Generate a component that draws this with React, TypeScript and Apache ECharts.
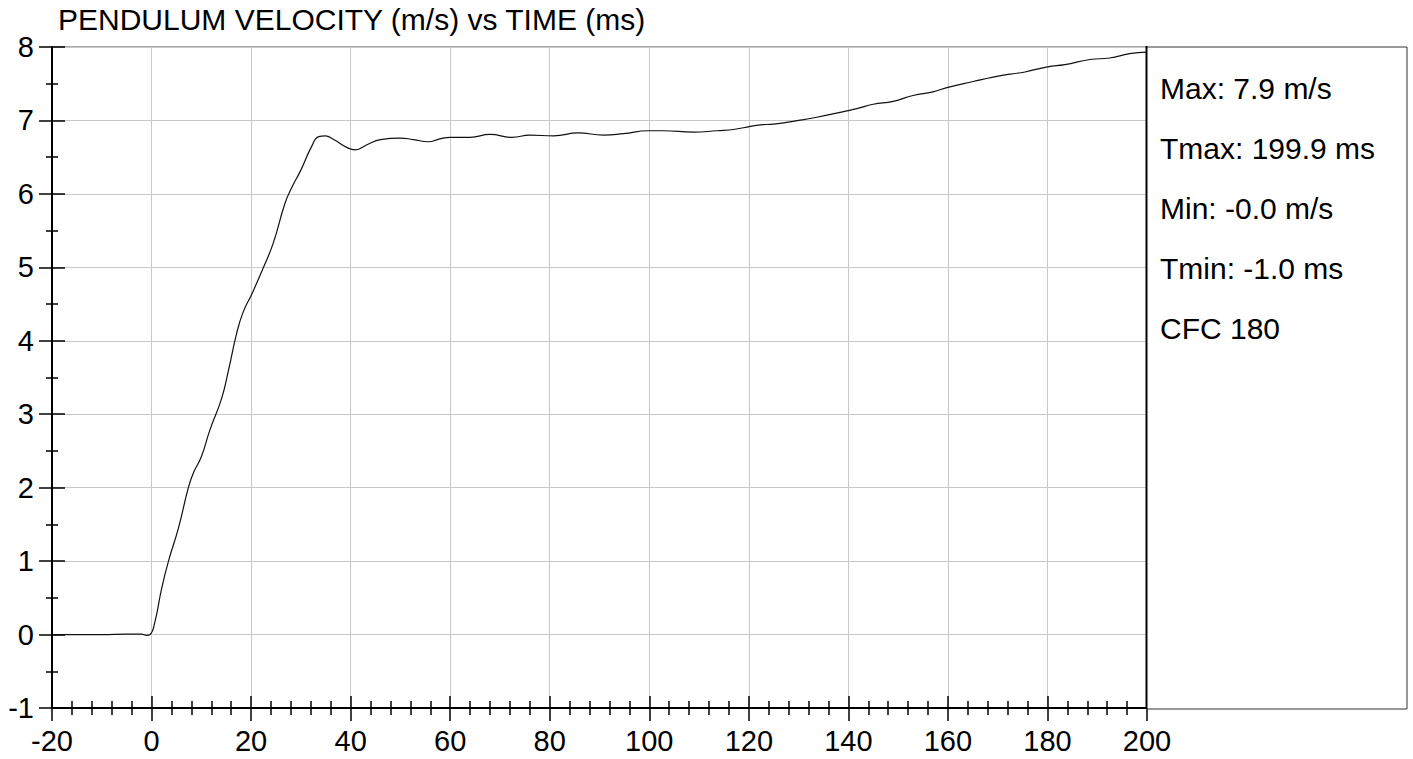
import React, { useEffect, useRef } from "react";
import * as echarts from "echarts";

const timeMs: number[] = [
  -20, -10, -5, -2, -1, -0.3, 0.7, 2, 3.4, 5.4, 7.4, 8.4, 10, 11.7, 14.1, 15.4, 17.1, 18.4, 20.1, 22.5,
  24.5, 26.8, 28.2, 29.9, 32.2, 33.6, 34.9, 36.6, 39.3, 40.9, 43.3, 46, 49.9, 52.6, 55.6, 57.9, 60, 64,
  68, 72.4, 76, 80.8, 85.7, 90.8, 94.8, 99.8, 102.8, 108.9, 113.6, 117.2, 120.3, 122.3, 125, 130, 133.4,
  139.7, 141.7, 145, 149, 153, 157, 160, 165.1, 169.1, 172.5, 175.5, 180, 183.5, 188.5, 192.5, 196.5, 199.9,
];
const velocity: number[] = [
  0, 0, 0.005, 0.005, -0.01, 0.0, 0.18, 0.62, 1.0, 1.45, 2.0, 2.2, 2.42, 2.78, 3.22, 3.58, 4.1, 4.39, 4.63,
  5.0, 5.34, 5.87, 6.09, 6.31, 6.65, 6.78, 6.79, 6.74, 6.63, 6.6, 6.67, 6.74, 6.76, 6.74, 6.71, 6.75, 6.77,
  6.77, 6.81, 6.77, 6.8, 6.79, 6.83, 6.8, 6.82, 6.86, 6.86, 6.84, 6.86, 6.88, 6.92, 6.94, 6.95, 7.0, 7.04,
  7.13, 7.16, 7.22, 7.26, 7.34, 7.39, 7.45, 7.53, 7.59, 7.63, 7.66, 7.73, 7.76, 7.83, 7.85, 7.91, 7.93,
];
const titleText = "PENDULUM VELOCITY (m/s) vs TIME (ms)";
const infoLines: string[] = ["Max: 7.9 m/s", "Tmax: 199.9 ms", "Min: -0.0 m/s", "Tmin: -1.0 ms", "CFC 180"];
const xRange = { min: -20, max: 200, interval: 20 };
const yRange = { min: -1, max: 8, interval: 1 };

const FONT = "'Liberation Sans', Arial, Helvetica, sans-serif";

export default function App() {
  const ref = useRef<HTMLDivElement>(null);
  useEffect(() => {
    document.body.style.margin = "0";
    if (!ref.current) return;
    const chart = echarts.init(ref.current, undefined, { renderer: "svg" });
    const axisLine = { show: true, onZero: false, lineStyle: { color: "#000", width: 2 } };
    const hiddenLine = { show: false, onZero: false };
    const tickStyle = { color: "#000", width: 1.5 };
    const option: any = {
      animation: false,
      backgroundColor: "#fff",
      textStyle: { fontFamily: FONT },
      title: {
        text: titleText,
        left: 58,
        top: 4,
        padding: 0,
        textStyle: { fontFamily: FONT, fontSize: 30, fontWeight: "normal", color: "#000" },
      },
      grid: {
        left: 52,
        right: 266,
        top: 47,
        bottom: 51,
        show: true,
        borderColor: "#555",
        borderWidth: 1,
        backgroundColor: "#fff",
      },
      xAxis: [
        {
          type: "value",
          position: "bottom",
          ...xRange,
          axisLine,
          axisTick: { show: true, inside: false, length: 13, lineStyle: tickStyle },
          minorTick: { show: true, splitNumber: 5, length: 7, lineStyle: tickStyle },
          axisLabel: { fontFamily: FONT, fontSize: 29, color: "#000", margin: 18 },
          splitLine: { show: true, lineStyle: { color: "#c8c8c8", width: 1 } },
        },
        {
          type: "value",
          position: "bottom",
          ...xRange,
          axisLine: hiddenLine,
          axisTick: { show: true, inside: true, length: 12, lineStyle: tickStyle },
          minorTick: { show: true, splitNumber: 5, length: 7, lineStyle: tickStyle },
          axisLabel: { show: false },
          splitLine: { show: false },
        },
      ],
      yAxis: [
        {
          type: "value",
          position: "left",
          ...yRange,
          axisLine,
          axisTick: { show: true, inside: false, length: 13, lineStyle: tickStyle },
          minorTick: { show: true, splitNumber: 2, length: 6, lineStyle: tickStyle },
          axisLabel: { fontFamily: FONT, fontSize: 29, color: "#000", margin: 18 },
          splitLine: { show: true, lineStyle: { color: "#c8c8c8", width: 1 } },
        },
        {
          type: "value",
          position: "left",
          ...yRange,
          axisLine: hiddenLine,
          axisTick: { show: true, inside: true, length: 13, lineStyle: tickStyle },
          minorTick: { show: true, splitNumber: 2, length: 6, lineStyle: tickStyle },
          axisLabel: { show: false },
          splitLine: { show: false },
        },
      ],
      series: [
        {
          type: "line",
          xAxisIndex: 0,
          yAxisIndex: 0,
          data: timeMs.map((t, i) => [t, velocity[i]]),
          showSymbol: false,
          smooth: 0.5,
          lineStyle: { color: "#111", width: 1.2 },
          z: 3,
        },
      ],
      graphic: [
        {
          type: "rect",
          shape: { x: 1146.5, y: 47, width: 260.5, height: 662 },
          style: { fill: "#fff", stroke: "#333", lineWidth: 1 },
          z: 10,
        },
        {
          type: "line",
          shape: { x1: 1146.5, y1: 46, x2: 1146.5, y2: 709 },
          style: { stroke: "#000", lineWidth: 2 },
          z: 11,
        },
        ...infoLines.map((s, i) => ({
          type: "text",
          x: 1160,
          y: 88 + i * 60,
          style: {
            text: s,
            fontFamily: FONT,
            fontSize: 30,
            fill: "#000",
            verticalAlign: "middle",
            align: "left",
          },
          z: 12,
        })),
      ],
    };
    chart.setOption(option);
    return () => chart.dispose();
  }, []);
  return <div ref={ref} style={{ width: 1413, height: 759 }} />;
}
